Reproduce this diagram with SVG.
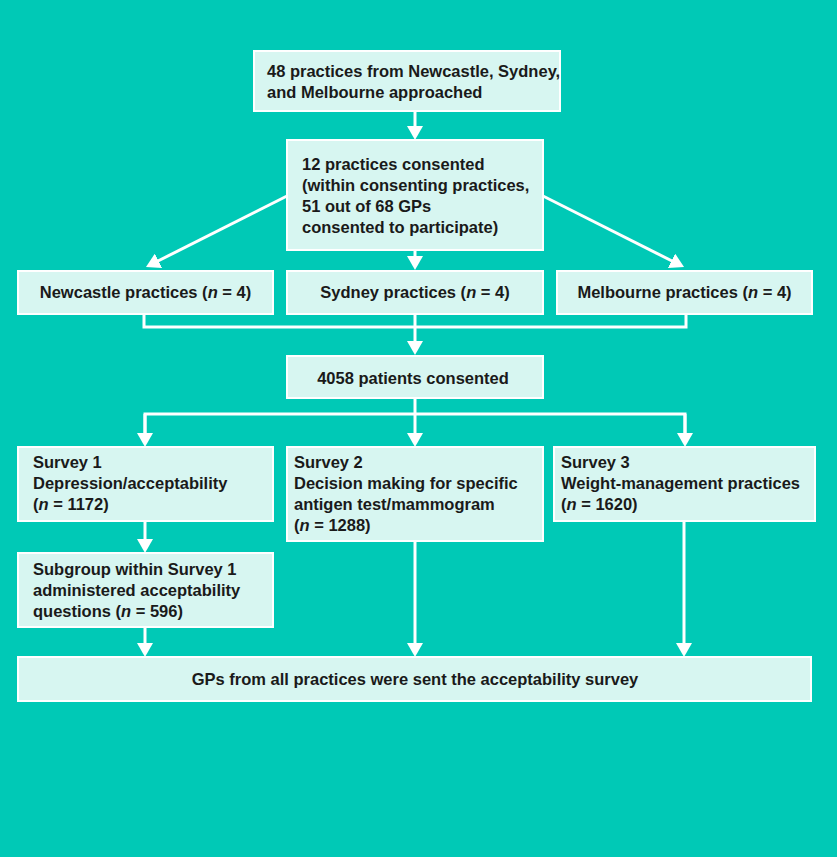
<svg xmlns="http://www.w3.org/2000/svg" width="837" height="857" viewBox="0 0 837 857">
<defs>
<marker id="ah" viewBox="0 0 14 16" markerWidth="14" markerHeight="16" refX="5" refY="8" orient="auto" markerUnits="userSpaceOnUse">
<path d="M0,0 L14,8 L0,16 z" fill="#ffffff"/>
</marker>
<style>
.box{fill:#d7f6f1;stroke:#ffffff;stroke-width:2}
.t{font-family:"Liberation Sans",Arial,sans-serif;font-weight:bold;font-size:16.5px;fill:#1a1a1a}
.c{text-anchor:middle}
.ln{stroke:#ffffff;stroke-width:3;fill:none}
.ar{marker-end:url(#ah)}
</style>
</defs>
<rect x="0" y="0" width="837" height="857" fill="#00c9b6"/>
<g id="connectors">
<line class="ln ar" x1="415" y1="111" x2="415" y2="131"/>
<line class="ln ar" x1="287" y1="196" x2="154" y2="263"/>
<line class="ln ar" x1="415" y1="250" x2="415" y2="261"/>
<line class="ln ar" x1="543" y1="196" x2="676" y2="263"/>
<polyline class="ln" points="144,314 144,327 686,327 686,314"/>
<line class="ln ar" x1="415" y1="314" x2="415" y2="346"/>
<line class="ln" x1="415" y1="398" x2="415" y2="414"/>
<polyline class="ln" points="145,438 145,414 685,414 685,438"/>
<line class="ln ar" x1="415" y1="414" x2="415" y2="438"/>
<line class="ln ar" x1="145" y1="414" x2="145" y2="438"/>
<line class="ln ar" x1="685" y1="414" x2="685" y2="438"/>
<line class="ln ar" x1="145" y1="521" x2="145" y2="544"/>
<line class="ln ar" x1="145" y1="627" x2="145" y2="648"/>
<line class="ln ar" x1="415" y1="541" x2="415" y2="648"/>
<line class="ln ar" x1="684" y1="521" x2="684" y2="648"/>
</g>
<g id="n1"><rect class="box" x="254" y="51" width="306" height="60"/>
<text class="t" x="267" y="77">48 practices from Newcastle, Sydney,</text>
<text class="t" x="267" y="98">and Melbourne approached</text></g>
<g id="n2"><rect class="box" x="287" y="140" width="256" height="110"/>
<text class="t" x="302" y="170">12 practices consented</text>
<text class="t" x="302" y="191">(within consenting practices,</text>
<text class="t" x="302" y="212">51 out of 68 GPs</text>
<text class="t" x="302" y="233">consented to participate)</text></g>
<g id="n3"><rect class="box" x="18" y="271" width="255" height="43"/>
<text class="t c" x="145.5" y="298">Newcastle practices (<tspan font-style="italic">n</tspan> = 4)</text></g>
<g id="n4"><rect class="box" x="287" y="271" width="256" height="43"/>
<text class="t c" x="415" y="298">Sydney practices (<tspan font-style="italic">n</tspan> = 4)</text></g>
<g id="n5"><rect class="box" x="557" y="271" width="255" height="43"/>
<text class="t c" x="684.5" y="298">Melbourne practices (<tspan font-style="italic">n</tspan> = 4)</text></g>
<g id="n6"><rect class="box" x="287" y="356" width="256" height="42"/>
<text class="t c" x="413" y="384">4058 patients consented</text></g>
<g id="n7"><rect class="box" x="18" y="447" width="255" height="74"/>
<text class="t" x="33" y="468">Survey 1</text>
<text class="t" x="33" y="489">Depression/acceptability</text>
<text class="t" x="33" y="510">(<tspan font-style="italic">n</tspan> = 1172)</text></g>
<g id="n8"><rect class="box" x="287" y="447" width="256" height="94"/>
<text class="t" x="294" y="468">Survey 2</text>
<text class="t" x="294" y="489">Decision making for specific</text>
<text class="t" x="294" y="510">antigen test/mammogram</text>
<text class="t" x="294" y="531">(<tspan font-style="italic">n</tspan> = 1288)</text></g>
<g id="n9"><rect class="box" x="554" y="447" width="261" height="74"/>
<text class="t" x="561" y="468">Survey 3</text>
<text class="t" x="561" y="489">Weight-management practices</text>
<text class="t" x="561" y="510">(<tspan font-style="italic">n</tspan> = 1620)</text></g>
<g id="n10"><rect class="box" x="18" y="553" width="255" height="74"/>
<text class="t" x="33" y="575">Subgroup within Survey 1</text>
<text class="t" x="33" y="596">administered acceptability</text>
<text class="t" x="33" y="617">questions (<tspan font-style="italic">n</tspan> = 596)</text></g>
<g id="n11"><rect class="box" x="18" y="657" width="793" height="44"/>
<text class="t c" x="415" y="685">GPs from all practices were sent the acceptability survey</text></g>
</svg>
